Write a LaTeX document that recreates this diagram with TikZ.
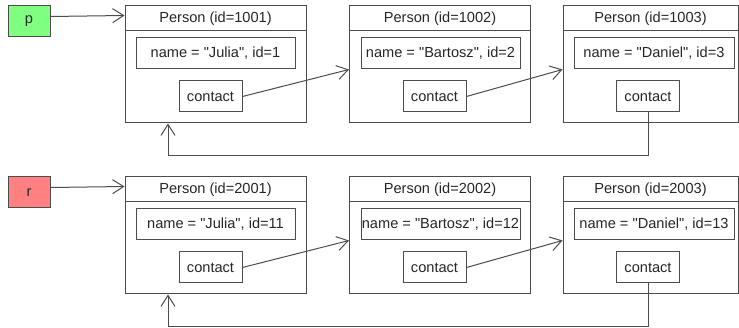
\documentclass[tikz,border=0pt]{standalone}
\usepackage{fontspec}
\setmainfont{Liberation Sans}[Ligatures=TeXOff]
\usetikzlibrary{arrows.meta,positioning}
\definecolor{varp}{HTML}{80FF80}
\definecolor{varr}{HTML}{FF8080}
\begin{document}
\begin{tikzpicture}[x=1pt,y=-1pt,
  every node/.style={font=\fontsize{14.6}{17}\selectfont, text=black!85},
  person/.style={draw=black!70, line width=1pt, minimum width=181pt, minimum height=117pt, inner sep=0pt},
  header/.style={draw=black!70, line width=1pt, minimum width=181pt, minimum height=25pt, inner sep=0pt, anchor=north},
  field/.style={draw=black!70, line width=1pt, minimum height=31pt, inner sep=0pt},
  var/.style={draw=black!70, line width=1pt, minimum width=42pt, minimum height=31pt, inner sep=0pt}]
\useasboundingbox (0,0) rectangle (739,328);
\tikzset{link/.style = {black!70, line width=1pt, -{Straight Barb[length=11pt,width=14pt]}}}
%first chain, variable p
\node[var,fill=varp] (p) at (29,21.5) {p};
\node[person] (per1) at (215.5,64.5) {};
\node[header] (t1) at (per1.north) {Person (id=1001)};
\node[field,minimum width=159pt] (n1) at (215.5,53.5) {name = "Julia", id=1};
\node[field,minimum width=63pt] (c1) at (210.5,96.5) {contact};
\node[person] (per2) at (440,64.5) {};
\node[header] (t2) at (per2.north) {Person (id=1002)};
\node[field,minimum width=159pt] (n2) at (440.5,53.5) {name = "Bartosz", id=2};
\node[field,minimum width=63pt] (c2) at (434.5,96.5) {contact};
\node[person,minimum width=175pt] (per3) at (650.5,64.5) {};
\node[header,minimum width=175pt] (t3) at (per3.north) {Person (id=1003)};
\node[field,minimum width=160pt] (n3) at (654,53.5) {name = "Daniel", id=3};
\node[field,minimum width=63pt] (c3) at (648,96.5) {contact};
\coordinate (ret1) at (168,156);
%links of first chain
\draw[link] ([yshift=5pt]p.east) -- ([yshift=-10pt]per1.north west);
\draw[link] (c1.east) -- (n2.south -| per2.west);
\draw[link] (c2.east) -- (n3.south -| per3.west);
\draw[link] (c3.south) |- (ret1) -- (ret1 |- per1.south);
%second chain, variable r
\node[var,fill=varr] (r) at (29,192.5) {r};
\node[person] (per4) at (215.5,235.5) {};
\node[header] (t4) at (per4.north) {Person (id=2001)};
\node[field,minimum width=159pt] (n4) at (215.5,224.5) {name = "Julia", id=11};
\node[field,minimum width=63pt] (c4) at (210.5,267.5) {contact};
\node[person] (per5) at (440,235.5) {};
\node[header] (t5) at (per5.north) {Person (id=2002)};
\node[field,minimum width=159pt] (n5) at (440.5,224.5) {name = "Bartosz", id=12};
\node[field,minimum width=63pt] (c5) at (434.5,267.5) {contact};
\node[person,minimum width=175pt] (per6) at (650.5,235.5) {};
\node[header,minimum width=175pt] (t6) at (per6.north) {Person (id=2003)};
\node[field,minimum width=160pt] (n6) at (654,224.5) {name = "Daniel", id=13};
\node[field,minimum width=63pt] (c6) at (648,267.5) {contact};
\coordinate (ret2) at (168,327);
%links of second chain
\draw[link] ([yshift=5pt]r.east) -- ([yshift=-10pt]per4.north west);
\draw[link] (c4.east) -- (n5.south -| per5.west);
\draw[link] (c5.east) -- (n6.south -| per6.west);
\draw[link] (c6.south) |- (ret2) -- (ret2 |- per4.south);
\end{tikzpicture}
\end{document}
